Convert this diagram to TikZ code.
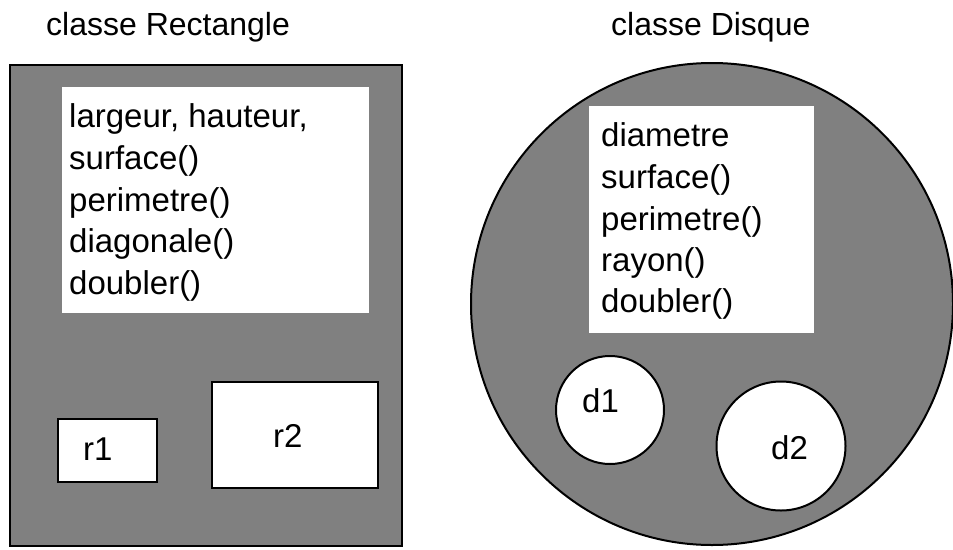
\documentclass[tikz,border=0pt]{standalone}
\usepackage{fontspec}
\setmainfont{Liberation Sans}
\begin{document}
\begin{tikzpicture}[x=1pt,y=-1pt,
  lbl/.style={anchor=base west,inner sep=0pt,font=\fontsize{33}{33}\selectfont},
  ttl/.style={anchor=base west,inner sep=0pt,font=\fontsize{32}{32}\selectfont},
  outer/.style={draw=black,line width=2pt,fill=gray50},
  inner/.style={draw=black,line width=2pt,fill=white},
  plain/.style={fill=white}]
\definecolor{gray50}{HTML}{808080}
\useasboundingbox (0,0) rectangle (953,549);
% titles
\node[ttl] (t1) at (46,35) {classe Rectangle};
\node[ttl] (t2) at (611,35) {classe Disque};
% Rectangle class
\path[outer] (10,65) rectangle (402,546);
\path[plain] (62,87) rectangle (369,313);
\node[lbl] (a1) at (69,127) {largeur, hauteur,};
\node[lbl] (a2) at (69,169) {surface()};
\node[lbl] (a3) at (69,211) {perimetre()};
\node[lbl] (a4) at (69,252) {diagonale()};
\node[lbl] (a5) at (69,294) {doubler()};
\path[inner] (58,419) rectangle (157,482);
\path[inner] (212,382) rectangle (378,488);
\node[lbl] (r1) at (83,460) {r1};
\node[lbl] (r2) at (273,447) {r2};
% Disque class
\path[outer] (712,304) circle (241);
\path[plain] (589,106) rectangle (814,333);
\node[lbl] (b1) at (601,146) {diametre};
\node[lbl] (b2) at (601,188) {surface()};
\node[lbl] (b3) at (601,230) {perimetre()};
\node[lbl] (b4) at (601,271) {rayon()};
\node[lbl] (b5) at (601,312) {doubler()};
\path[inner] (610,410) circle (54);
\path[inner] (781,446) circle (64.5);
\node[lbl] (d1) at (582,412) {d1};
\node[lbl] (d2) at (771,459) {d2};
\end{tikzpicture}
\end{document}
